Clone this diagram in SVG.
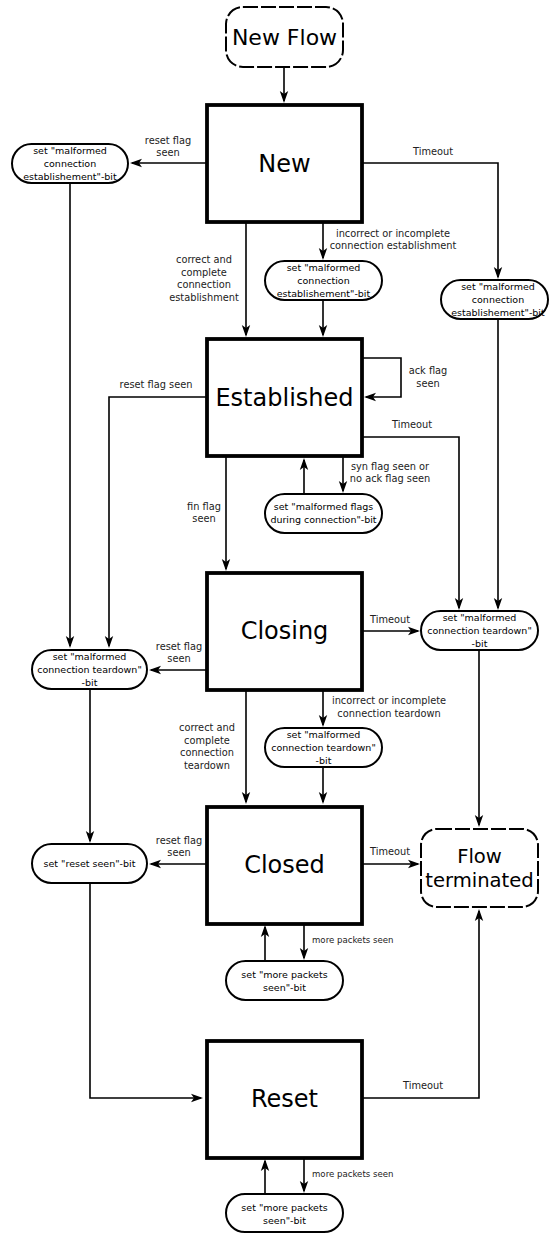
<svg xmlns="http://www.w3.org/2000/svg" width="550" height="1233" viewBox="0 0 550 1233">
  <defs>
    <marker id="arrow" markerUnits="userSpaceOnUse" markerWidth="16" markerHeight="12" viewBox="-14 -6 16 12" refX="-2" refY="0" orient="auto">
      <path d="M0,0 L-12,-4.2 L-9,0 L-12,4.2 Z" fill="#000"/>
    </marker>
    <style>
      .state { fill: #fff; stroke: #000; stroke-width: 3.8; }
      .term { fill: #fff; stroke: #000; stroke-width: 2; stroke-dasharray: 15 3; }
      .pill { fill: #fff; stroke: #000; stroke-width: 2; }
      .conn { fill: none; stroke: #000; stroke-width: 1.6; marker-end: url(#arrow); }
      text { font-family: "DejaVu Sans", "Liberation Sans", sans-serif; text-anchor: middle; }
      .big { font-size: 24px; fill: #000; }
      .mid { font-size: 22px; fill: #000; }
      .mid2 { font-size: 19.6px; fill: #000; }
      .ptxt { font-size: 9.5px; fill: #000; }
      .lbl { font-size: 9.8px; fill: #222; }
      .sml { font-size: 8.6px; fill: #222; text-anchor: start; }
    </style>
  </defs>

  <!-- transitions -->
  <g id="connectors">
    <path class="conn" d="M284,67 V101"/>
    <path class="conn" d="M207,163 H132"/>
    <path class="conn" d="M362,163 H498 V277"/>
    <path class="conn" d="M246,222 V335"/>
    <path class="conn" d="M323,222 V258"/>
    <path class="conn" d="M323,300 V335"/>
    <path class="conn" d="M70,183 V646"/>
    <path class="conn" d="M498,319 V608"/>
    <path class="conn" d="M362,358 H401 V397 H366"/>
    <path class="conn" d="M362,437 H459 V608"/>
    <path class="conn" d="M207,397 H109 V646"/>
    <path class="conn" d="M226,456 V569"/>
    <path class="conn" d="M304,494 V460"/>
    <path class="conn" d="M343,456 V491"/>
    <path class="conn" d="M207,670 H151"/>
    <path class="conn" d="M362,631 H418"/>
    <path class="conn" d="M479,650 V825"/>
    <path class="conn" d="M246,690 V802"/>
    <path class="conn" d="M323,690 V725"/>
    <path class="conn" d="M323,767 V802"/>
    <path class="conn" d="M90,689 V841"/>
    <path class="conn" d="M207,864 H151"/>
    <path class="conn" d="M362,864 H418"/>
    <path class="conn" d="M90,883 V1098 H201"/>
    <path class="conn" d="M265,961 V927"/>
    <path class="conn" d="M304,924 V958"/>
    <path class="conn" d="M362,1098 H479 V911"/>
    <path class="conn" d="M265,1194 V1161"/>
    <path class="conn" d="M304,1158 V1191"/>

    <!-- transition labels -->
    <text class="lbl" x="168" y="144">reset flag</text>
    <text class="lbl" x="168" y="156">seen</text>
    <text class="lbl" x="433" y="155">Timeout</text>
    <text class="lbl" x="393" y="237">incorrect or incomplete</text>
    <text class="lbl" x="393" y="249">connection establishment</text>
    <text class="lbl" x="204" y="263">correct and</text>
    <text class="lbl" x="204" y="275.5">complete</text>
    <text class="lbl" x="204" y="288">connection</text>
    <text class="lbl" x="204" y="300.5">establishment</text>
    <text class="lbl" x="428" y="374">ack flag</text>
    <text class="lbl" x="428" y="387">seen</text>
    <text class="lbl" x="156" y="388">reset flag seen</text>
    <text class="lbl" x="412" y="428">Timeout</text>
    <text class="lbl" x="390" y="470">syn flag seen or</text>
    <text class="lbl" x="390" y="482">no ack flag seen</text>
    <text class="lbl" x="204" y="510">fin flag</text>
    <text class="lbl" x="204" y="522">seen</text>
    <text class="lbl" x="390" y="623">Timeout</text>
    <text class="lbl" x="179" y="650">reset flag</text>
    <text class="lbl" x="179" y="662">seen</text>
    <text class="lbl" x="389" y="704">incorrect or incomplete</text>
    <text class="lbl" x="389" y="717">connection teardown</text>
    <text class="lbl" x="207" y="731">correct and</text>
    <text class="lbl" x="207" y="743.5">complete</text>
    <text class="lbl" x="207" y="756">connection</text>
    <text class="lbl" x="207" y="768.5">teardown</text>
    <text class="lbl" x="179" y="844">reset flag</text>
    <text class="lbl" x="179" y="856">seen</text>
    <text class="lbl" x="390" y="855">Timeout</text>
    <text class="sml" x="312" y="943">more packets seen</text>
    <text class="lbl" x="423" y="1089">Timeout</text>
    <text class="sml" x="312" y="1177">more packets seen</text>
  </g>

  <!-- terminal states -->
  <g id="new-flow">
    <rect class="term" x="226" y="7" width="117" height="60" rx="17"/>
    <text class="mid" x="284.5" y="45">New Flow</text>
  </g>
  <g id="flow-terminated">
    <rect class="term" x="421" y="829" width="117" height="78" rx="16"/>
    <text class="mid2" x="479.5" y="863">Flow</text>
    <text class="mid2" x="479.5" y="887">terminated</text>
  </g>

  <!-- main states -->
  <g id="state-new">
    <rect class="state" x="207" y="105" width="155" height="117"/>
    <text class="big" x="284.5" y="172">New</text>
  </g>
  <g id="state-established">
    <rect class="state" x="207" y="339" width="155" height="117"/>
    <text class="big" x="284.5" y="406">Established</text>
  </g>
  <g id="state-closing">
    <rect class="state" x="207" y="573" width="155" height="117"/>
    <text class="big" x="284.5" y="639">Closing</text>
  </g>
  <g id="state-closed">
    <rect class="state" x="207" y="807" width="155" height="117"/>
    <text class="big" x="284.5" y="873">Closed</text>
  </g>
  <g id="state-reset">
    <rect class="state" x="207" y="1041" width="155" height="117"/>
    <text class="big" x="284.5" y="1107">Reset</text>
  </g>

  <!-- flag-setting actions -->
  <g id="bit-establish-reset">
    <rect class="pill" x="12" y="144" width="116" height="39" rx="19.5"/>
    <text class="ptxt" x="70" y="154">set "malformed</text>
    <text class="ptxt" x="70" y="167">connection</text>
    <text class="ptxt" x="70" y="180">establishement"-bit</text>
  </g>
  <g id="bit-establish-incomplete">
    <rect class="pill" x="265" y="261" width="117" height="39" rx="19.5"/>
    <text class="ptxt" x="323.5" y="271">set "malformed</text>
    <text class="ptxt" x="323.5" y="284">connection</text>
    <text class="ptxt" x="323.5" y="297">establishement"-bit</text>
  </g>
  <g id="bit-establish-timeout">
    <rect class="pill" x="441" y="280" width="107" height="39" rx="19.5"/>
    <text class="ptxt" x="498" y="290">set "malformed</text>
    <text class="ptxt" x="498" y="303">connection</text>
    <text class="ptxt" x="498" y="316">establishement"-bit</text>
  </g>
  <g id="bit-flags">
    <rect class="pill" x="265" y="494" width="117" height="39" rx="19.5"/>
    <text class="ptxt" x="323.5" y="510">set "malformed flags</text>
    <text class="ptxt" x="323.5" y="523">during connection"-bit</text>
  </g>
  <g id="bit-teardown-reset">
    <rect class="pill" x="32" y="650" width="115" height="39" rx="19.5"/>
    <text class="ptxt" x="89.5" y="660">set "malformed</text>
    <text class="ptxt" x="89.5" y="673">connection teardown"</text>
    <text class="ptxt" x="89.5" y="686">-bit</text>
  </g>
  <g id="bit-teardown-timeout">
    <rect class="pill" x="421" y="611" width="117" height="39" rx="19.5"/>
    <text class="ptxt" x="479.5" y="621">set "malformed</text>
    <text class="ptxt" x="479.5" y="634">connection teardown"</text>
    <text class="ptxt" x="479.5" y="647">-bit</text>
  </g>
  <g id="bit-teardown-incomplete">
    <rect class="pill" x="265" y="728" width="117" height="39" rx="19.5"/>
    <text class="ptxt" x="323.5" y="738">set "malformed</text>
    <text class="ptxt" x="323.5" y="751">connection teardown"</text>
    <text class="ptxt" x="323.5" y="764">-bit</text>
  </g>
  <g id="bit-reset-seen">
    <rect class="pill" x="32" y="844" width="115" height="39" rx="19.5"/>
    <text class="ptxt" x="89.5" y="867">set "reset seen"-bit</text>
  </g>
  <g id="bit-more-closed">
    <rect class="pill" x="226" y="961" width="117" height="39" rx="19.5"/>
    <text class="ptxt" x="284.5" y="978">set "more packets</text>
    <text class="ptxt" x="284.5" y="991">seen"-bit</text>
  </g>
  <g id="bit-more-reset">
    <rect class="pill" x="226" y="1194" width="117" height="38" rx="19"/>
    <text class="ptxt" x="284.5" y="1211">set "more packets</text>
    <text class="ptxt" x="284.5" y="1224">seen"-bit</text>
  </g>
</svg>
